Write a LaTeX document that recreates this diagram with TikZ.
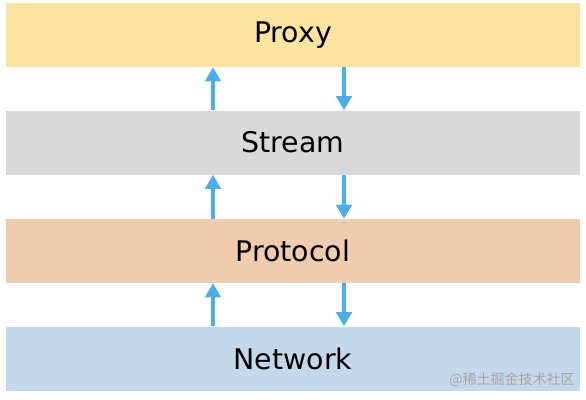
\documentclass[tikz,border=0pt]{standalone}
\usepackage{fontspec}
\setmainfont{DejaVu Sans}
\newfontfamily\cjk{Noto Sans CJK SC}
\usetikzlibrary{arrows.meta}
\definecolor{proxyc}{HTML}{FBE4A0}
\definecolor{streamc}{HTML}{D9D9D9}
\definecolor{protoc}{HTML}{F0CCAF}
\definecolor{netc}{HTML}{C4D8EC}
\definecolor{arrc}{HTML}{4AAFE8}
\tikzset{
  layer/.style={minimum width=430.5pt, minimum height=48pt, inner sep=0pt, draw=none, font=\fontsize{21.3}{24}\selectfont},
  arr/.style={draw=arrc, line width=2.4pt, -{Triangle[length=10.5pt,width=11.5pt]}}
}
\begin{document}
\begin{tikzpicture}[x=0.75pt,y=-0.75pt]
\useasboundingbox (0,0) rectangle (586,400);
\node[layer, fill=proxyc] (proxy) at (293,35) {Proxy};
\node[layer, fill=streamc] (stream) at (293,142.5) {Stream};
\node[layer, fill=protoc] (proto) at (293,251) {Protocol};
\node[layer, fill=netc] (net) at (293,358.5) {Network};
\node[anchor=east, text=black!35, font=\cjk\fontsize{10.5}{12}\selectfont, inner sep=0pt] (wm) at (575,380) {@稀土掘金技术社区};
\draw[arr] ([xshift=-60pt]stream.north) -- ([xshift=-60pt]proxy.south);
\draw[arr] ([xshift=38.25pt]proxy.south) -- ([xshift=38.25pt]stream.north);
\draw[arr] ([xshift=-60pt]proto.north) -- ([xshift=-60pt]stream.south);
\draw[arr] ([xshift=38.25pt]stream.south) -- ([xshift=38.25pt]proto.north);
\draw[arr] ([xshift=-60pt]net.north) -- ([xshift=-60pt]proto.south);
\draw[arr] ([xshift=38.25pt]proto.south) -- ([xshift=38.25pt]net.north);
\end{tikzpicture}
\end{document}
